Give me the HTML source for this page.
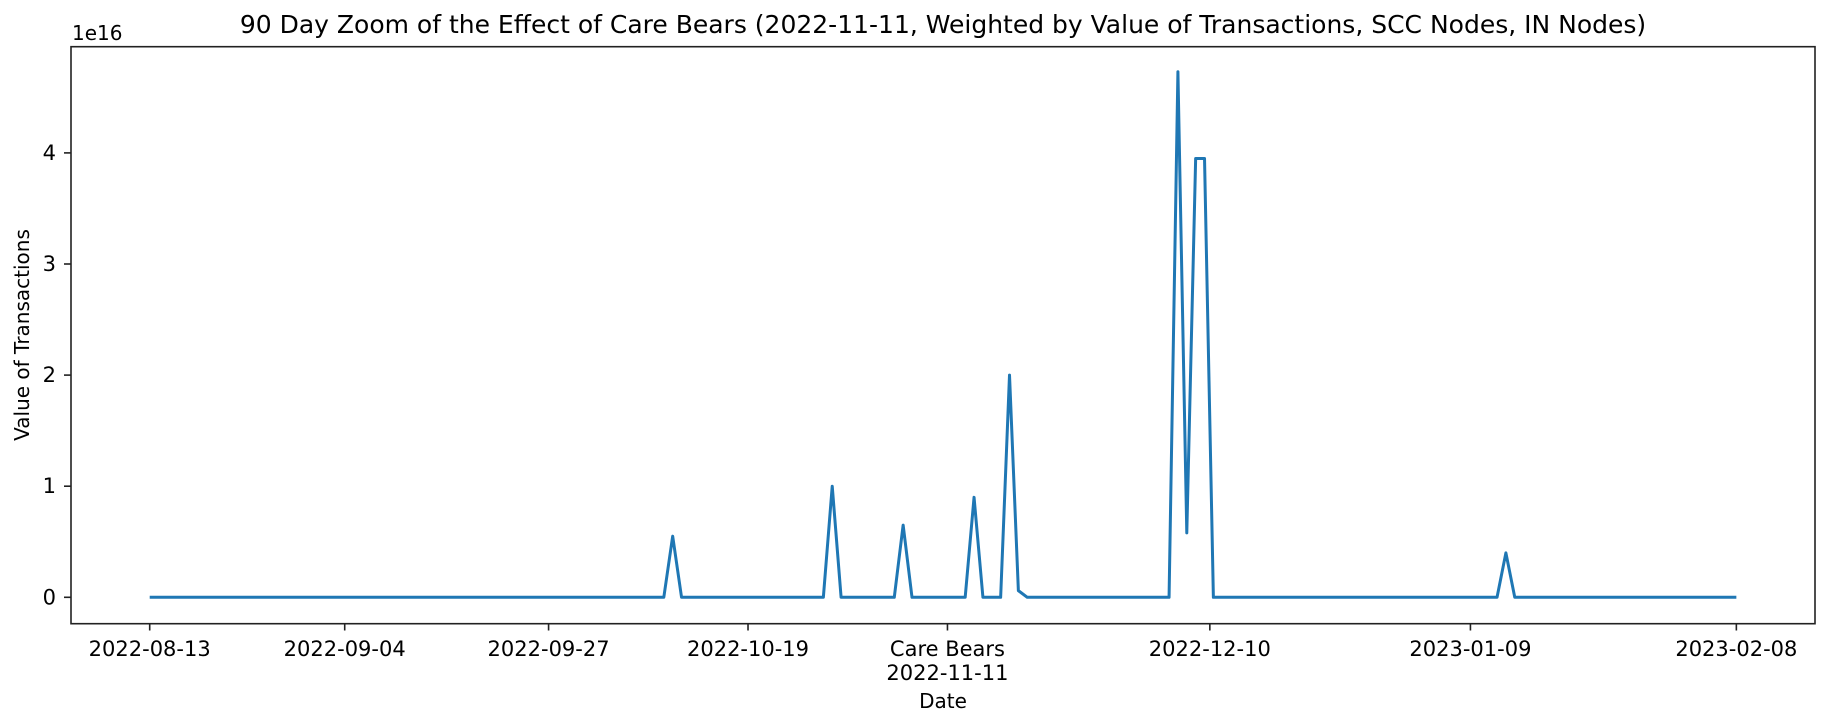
<!DOCTYPE html>
<html><head><meta charset="utf-8"><style>
html,body{margin:0;padding:0;background:#fff;}
svg{display:block;font-family:"DejaVu Sans","Liberation Sans",sans-serif;}
</style></head><body>
<svg id="chart" width="1829" height="725" viewBox="0 0 1829 725">
<text x="943" y="33" font-size="25" text-anchor="middle" fill="#000">90 Day Zoom of the Effect of Care Bears (2022-11-11, Weighted by Value of Transactions, SCC Nodes, IN Nodes)</text>
<text x="72" y="40" font-size="20" fill="#000">1e16</text>
<text transform="translate(29,335) rotate(-90)" font-size="20" text-anchor="middle" fill="#000">Value of Transactions</text>
<text x="943" y="708" font-size="20" text-anchor="middle" fill="#000">Date</text>
<g id="ticks"></g>
<path id="series" fill="none" stroke="#1f77b4" stroke-width="3" stroke-linejoin="round"></path>
<rect x="71" y="46.7" width="1744" height="577" fill="none" stroke="#222" stroke-width="1.6"></rect>
</svg>
<script>
const numDays = 180;
const spikeDays = [59, 77, 85, 93, 97, 98, 116, 117, 118, 119, 153];
const spikeValues = [0.55, 1.0, 0.65, 0.9, 2.0, 0.06, 4.73, 0.58, 3.95, 3.95, 0.4]; // x1e16
const xTickDays = [0, 22, 45, 67.5, 90, 119.6, 149, 179];
const xTickLabels = ["2022-08-13","2022-09-04","2022-09-27","2022-10-19","Care Bears\n2022-11-11","2022-12-10","2023-01-09","2023-02-08"];
const yTicks = [0, 1, 2, 3, 4];

const NS = "http://www.w3.org/2000/svg";
const X0 = 149.7, PXD = 8.864, Y0 = 597.3, PXU = 111.1;
function xs(d){ return X0 + d * PXD; }
function ys(v){ return Y0 - v * PXU; }

const values = new Array(numDays).fill(0);
spikeDays.forEach((d, i) => { values[d] = spikeValues[i]; });
let p = "";
values.forEach((v, d) => { p += (d ? "L" : "M") + xs(d).toFixed(2) + "," + ys(v).toFixed(2); });
document.getElementById("series").setAttribute("d", p);

const g = document.getElementById("ticks");
xTickDays.forEach((dd, i) => {
  const x = xs(dd);
  const ln = document.createElementNS(NS, "line");
  ln.setAttribute("x1", x); ln.setAttribute("x2", x);
  ln.setAttribute("y1", 623.7); ln.setAttribute("y2", 630.5);
  ln.setAttribute("stroke", "#222"); ln.setAttribute("stroke-width", "1.6");
  
  
  g.appendChild(ln);
  const lines = xTickLabels[i].split("\n");
  lines.forEach((t, k) => {
    const tx = document.createElementNS(NS, "text");
    tx.setAttribute("x", x);
    tx.setAttribute("y", 656 + k * 24);
    tx.setAttribute("font-size", "21");
    tx.setAttribute("text-anchor", "middle");
    tx.textContent = t;
    
    
    g.appendChild(tx);
  });
});
yTicks.forEach(v => {
  const y = ys(v);
  const ln = document.createElementNS(NS, "line");
  ln.setAttribute("x1", 64); ln.setAttribute("x2", 71);
  ln.setAttribute("y1", y); ln.setAttribute("y2", y);
  ln.setAttribute("stroke", "#222"); ln.setAttribute("stroke-width", "1.6");
  
  
  g.appendChild(ln);
  const tx = document.createElementNS(NS, "text");
  tx.setAttribute("x", 56);
  tx.setAttribute("y", y + 7);
  tx.setAttribute("font-size", "21");
  tx.setAttribute("text-anchor", "end");
  tx.textContent = String(v);
  
  
  g.appendChild(tx);
});
</script>
</body></html>
